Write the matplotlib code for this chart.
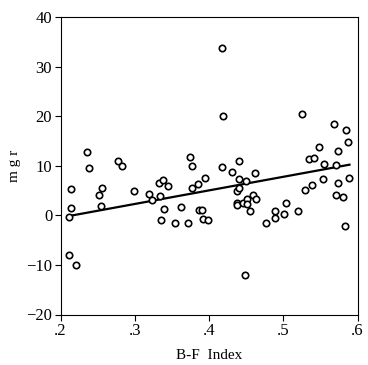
import matplotlib

matplotlib.use("Agg")
import matplotlib.pyplot as plt
import numpy as np

# B-F index vs m g r
bf_index = [
    0.2117, 0.2135, 0.2144, 0.2121, 0.2206, 0.2354, 0.2390, 0.2520, 0.2556, 0.2547,
    0.2780, 0.2830, 0.2990, 0.3188, 0.3233, 0.3332, 0.3386, 0.3345, 0.3444, 0.3354,
    0.3395, 0.3538, 0.3628, 0.3722, 0.3740, 0.3771, 0.3771, 0.3848, 0.3870, 0.3910,
    0.3950, 0.3920, 0.3987, 0.4175, 0.4188, 0.4175, 0.4310, 0.4400, 0.4400, 0.4372,
    0.4404, 0.4381, 0.4381, 0.4462, 0.4507, 0.4516, 0.4498, 0.4556, 0.4592, 0.4628,
    0.4623, 0.4480, 0.4762, 0.4888, 0.4883, 0.5004, 0.5040, 0.5202, 0.5256, 0.5291,
    0.5345, 0.5413, 0.5390, 0.5484, 0.5534, 0.5551, 0.5682, 0.5735, 0.5713, 0.5744,
    0.5717, 0.5798, 0.5825, 0.5848, 0.5870, 0.5892,
]
mgr = [
    -0.3, 5.3, 1.5, -7.9, -10.1, 12.8, 9.5, 4.2, 5.5, 1.8,
    11.0, 9.9, 5.0, 4.3, 3.1, 6.5, 7.1, 3.8, 5.9, -0.9,
    1.2, -1.5, 1.7, -1.5, 11.7, 10.0, 5.6, 6.25, 1.1, 1.1,
    7.6, -0.8, -1.0, 33.7, 20.0, 9.7, 8.8, 11.0, 7.3, 5.0,
    5.6, 2.55, 2.1, 2.5, 3.2, 2.2, 6.9, 0.9, 4.2, 3.2,
    8.5, -12.0, -1.5, 0.9, -0.5, 0.3, 2.5, 0.9, 20.5, 5.2,
    11.4, 11.5, 6.2, 13.8, 7.3, 10.4, 18.4, 12.9, 10.2, 6.5,
    4.1, 3.6, -2.15, 17.2, 14.7, 7.6,
]
# fitted line as drawn in the reference
fit_slope = 27.4
fit_intercept = -5.93
x_ticks = [0.2, 0.3, 0.4, 0.5, 0.6]
x_ticklabels = [".2", ".3", ".4", ".5", ".6"]
y_ticks = [-20, -10, 0, 10, 20, 30, 40]

plt.rcParams["font.family"] = ["Liberation Serif", "DejaVu Serif"]

x = np.array(bf_index)
y = np.array(mgr)
xfit = np.array([x.min(), x.max()])

fig = plt.figure(figsize=(3.68, 3.65), dpi=100)
ax = fig.add_axes([60.5 / 368, 1 - 314.5 / 365, 297 / 368, 297.5 / 365])
ax.plot(xfit, fit_intercept + fit_slope * xfit, color="black", lw=1.6, zorder=2)
ax.plot(x, y, "o", mfc="white", mec="black", mew=1.2, ms=4.6, zorder=3)

ax.set_xlim(0.2, 0.6)
ax.set_ylim(-20, 40)
ax.set_xticks(x_ticks)
ax.set_xticklabels(x_ticklabels)
ax.set_yticks(y_ticks)
ax.tick_params(direction="out", length=4, width=0.8, labelsize=12, pad=2,
               top=False, right=False)
for s in ax.spines.values():
    s.set_linewidth(0.8)
ax.set_xlabel("B-F  Index", fontsize=11, labelpad=7)
ax.set_ylabel("m g r", fontsize=11, labelpad=4)

fig.savefig("out.png", dpi=100)
